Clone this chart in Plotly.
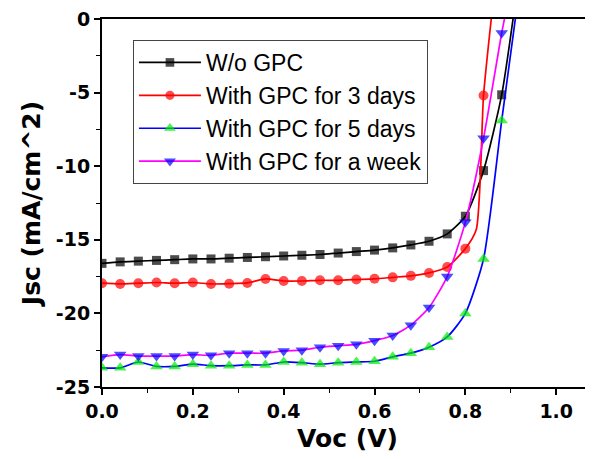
import plotly.graph_objects as go

# Voltage sample points (markers every 0.04 V) plus extra line-only points
v_wo = [0.00,0.04,0.08,0.12,0.16,0.20,0.24,0.28,0.32,0.36,0.40,0.44,0.48,0.52,0.56,0.60,0.64,0.68,0.72,0.76,0.80,0.84,0.88,0.905]
j_wo = [-16.6,-16.5,-16.45,-16.4,-16.35,-16.3,-16.3,-16.25,-16.2,-16.15,-16.1,-16.05,-16.0,-15.9,-15.8,-15.7,-15.55,-15.35,-15.1,-14.6,-13.4,-10.3,-5.15,0.0]
m_wo = [1]*23 + [0]

v_3d = [0.00,0.04,0.08,0.12,0.16,0.20,0.24,0.28,0.32,0.36,0.40,0.44,0.48,0.52,0.56,0.60,0.64,0.68,0.72,0.76,0.80,0.824,0.84,0.857]
j_3d = [-17.95,-18.0,-17.95,-17.9,-17.95,-17.9,-18.0,-17.98,-17.93,-17.66,-17.8,-17.8,-17.75,-17.75,-17.7,-17.65,-17.55,-17.45,-17.25,-16.85,-15.6,-14.3,-5.2,0.0]
m_3d = [1]*21 + [0, 1, 0]

v_5d = [0.00,0.04,0.08,0.12,0.16,0.20,0.24,0.28,0.32,0.36,0.40,0.44,0.48,0.52,0.56,0.60,0.64,0.68,0.72,0.76,0.80,0.84,0.88,0.91]
j_5d = [-23.7,-23.7,-23.3,-23.6,-23.6,-23.45,-23.55,-23.55,-23.5,-23.5,-23.3,-23.35,-23.45,-23.35,-23.3,-23.25,-22.95,-22.7,-22.3,-21.6,-20.0,-16.3,-6.9,0.0]
m_5d = [1]*23 + [0]

v_wk = [0.00,0.04,0.08,0.12,0.16,0.20,0.24,0.28,0.32,0.36,0.40,0.44,0.48,0.52,0.56,0.60,0.64,0.68,0.72,0.76,0.80,0.84,0.88,0.886]
j_wk = [-22.95,-22.8,-22.9,-22.9,-22.9,-22.8,-22.85,-22.7,-22.7,-22.7,-22.55,-22.5,-22.3,-22.2,-22.1,-21.85,-21.5,-20.8,-19.6,-17.5,-13.8,-8.1,-0.95,0.0]
m_wk = [1]*23 + [0]

series = [
    ("W/o GPC", v_wo, j_wo, m_wo, "black", "black", "square", 9),
    ("With GPC for 3 days", v_3d, j_3d, m_3d, "red", "red", "circle", 10),
    ("With GPC for 5 days", v_5d, j_5d, m_5d, "blue", "#00ee00", "triangle-up", 11),
    ("With GPC for a week", v_wk, j_wk, m_wk, "magenta", "blue", "triangle-down", 11),
]

x_ticks = [0.0, 0.2, 0.4, 0.6, 0.8, 1.0]
x_tick_text = ["0.0", "0.2", "0.4", "0.6", "0.8", "1.0"]
y_ticks = [0, -5, -10, -15, -20, -25]
y_tick_text = ["0", "-5", "-10", "-15", "-20", "-25"]

BOLD = "DejaVu Sans, sans-serif"
REG = "Liberation Sans, Arial, sans-serif"

fig = go.Figure()
for name, vx, jy, mflag, lc, mc, sym, ms in series:
    fig.add_trace(go.Scatter(
        x=vx, y=jy, name=name, mode="lines+markers",
        line=dict(color=lc, width=1.7, shape="spline", smoothing=0.6),
        marker=dict(symbol=sym, color=mc, size=[ms * f for f in mflag], line=dict(width=0)),
    ))

# page body has an 8px default margin, so the figure is sized/offset to compensate
fig.update_layout(
    width=585, height=451,
    margin=dict(l=94, r=0, t=11, b=72),
    plot_bgcolor="white", paper_bgcolor="white",
    font=dict(family=REG, color="black"),
    showlegend=True,
    legend=dict(
        x=0.063, y=0.943, xanchor="left", yanchor="top",
        bgcolor="white", bordercolor="#444444", borderwidth=1,
        font=dict(size=23, family=REG),
        tracegroupgap=0, itemwidth=62,
    ),
    xaxis=dict(
        range=[0, 1.081], tickvals=x_ticks, ticktext=["<b>%s</b>" % t for t in x_tick_text],
        automargin=False, ticklabeloverflow="allow",
        showgrid=False, zeroline=False, showline=True, linecolor="black", linewidth=2,
        mirror=True, ticks="outside", ticklen=6, tickwidth=1.5, tickcolor="black",
        tickfont=dict(size=19, family=BOLD, weight="bold"),
        minor=dict(dtick=0.1, tick0=0, ticks="outside", ticklen=4, tickwidth=1.2, tickcolor="black"),
        title=dict(text="Voc (V)", font=dict(size=25, family=BOLD, weight="bold"), standoff=9),
    ),
    yaxis=dict(
        range=[-25, 0], tickvals=y_ticks, ticktext=["<b>%s</b>" % t for t in y_tick_text],
        automargin=False, ticklabeloverflow="allow",
        showgrid=False, zeroline=False, showline=True, linecolor="black", linewidth=2,
        ticks="outside", ticklen=6, tickwidth=1.5, tickcolor="black",
        tickfont=dict(size=19, family=BOLD, weight="bold"),
        minor=dict(dtick=2.5, tick0=0, ticks="outside", ticklen=4, tickwidth=1.2, tickcolor="black"),
        title=dict(text="Jsc (mA/cm^2)", font=dict(size=25, family=BOLD, weight="bold"), standoff=8),
    ),
)

fig.write_html("out.html")
